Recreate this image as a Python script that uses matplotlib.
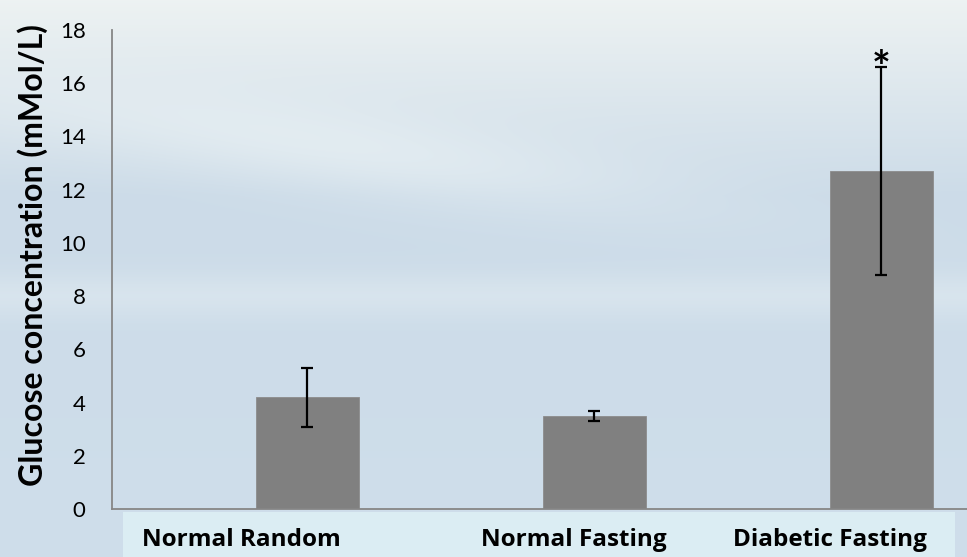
import matplotlib
matplotlib.use("Agg")
import matplotlib.pyplot as plt
import numpy as np
from matplotlib.patches import Rectangle

# Glucose levels per group (mMol/L) with error bar half-widths
categories = ["Normal Random", "Normal Fasting", "Diabetic Fasting"]
glucose = [4.2, 3.5, 12.7]
glucose_err = [1.1, 0.2, 3.9]
significant = [False, False, True]

yticks = [0, 2, 4, 6, 8, 10, 12, 14, 16, 18]

plt.rcParams["font.family"] = ["Lato", "DejaVu Sans"]

W, H = 967, 557
fig = plt.figure(figsize=(W / 100, H / 100), dpi=100)

# ---------------------------------------------------------------------------
# Soft sky backdrop
# ---------------------------------------------------------------------------
yy, xx = np.mgrid[0:H, 0:W] / np.array([H, W])[:, None, None]
top = np.array([0.93, 0.95, 0.95])
mid = np.array([0.80, 0.86, 0.91])
low = np.array([0.81, 0.87, 0.92])
t = np.clip(yy / 0.35, 0, 1)[..., None]
sky = top * (1 - t) + mid * t
t2 = np.clip((yy - 0.35) / 0.6, 0, 1)[..., None]
sky = sky * (1 - t2) + low * t2
# light cloud streaks
streak = np.exp(-((yy - 0.25 - 0.25 * (xx - 0.3)) / 0.08) ** 2) * np.exp(-((xx - 0.35) / 0.35) ** 2)
band = np.exp(-((yy - 0.53) / 0.04) ** 2) * 0.6
glow = np.clip(streak + band, 0, 1)[..., None]
sky = sky * (1 - 0.6 * glow) + np.array([0.92, 0.95, 0.96]) * 0.6 * glow
bg = fig.add_axes([0, 0, 1, 1], zorder=-10)
bg.imshow(sky, aspect="auto", extent=[0, 1, 0, 1], interpolation="bilinear")
bg.axis("off")

# light strip behind the category labels
fig.patches.append(Rectangle((123 / W, 0), (955 - 123) / W, (557 - 512) / H,
                             transform=fig.transFigure, facecolor="#dbedf3",
                             edgecolor="none", zorder=-5))

# ---------------------------------------------------------------------------
# Bars
# ---------------------------------------------------------------------------
ax = fig.add_axes([112 / W, 1 - 509 / H, 861 / W, (509 - 30) / H])
ax.patch.set_alpha(0)

x = np.arange(len(categories))
bar_w = 0.362
bar_x = x + bar_w / 2

ax.bar(bar_x, glucose, width=bar_w, color="#808080", edgecolor="#8c8c8c",
       linewidth=0.6, zorder=2)
ax.errorbar(bar_x, glucose, yerr=glucose_err, fmt="none", ecolor="black",
            elinewidth=1.6, capsize=4.5, capthick=1.6, zorder=3)

for xi, m, e, sig in zip(bar_x, glucose, glucose_err, significant):
    if sig:
        ax.annotate("*", xy=(xi, m + e), xytext=(0, -16), textcoords="offset points",
                    ha="center", va="bottom", fontsize=32, fontweight="bold")

ax.set_xlim(-0.5, len(categories) - 0.5)
ax.set_ylim(0, 18)
ax.set_yticks(yticks)
ax.set_yticklabels([str(v) for v in yticks], fontsize=16)
ax.tick_params(axis="y", length=0, pad=19)

# category label positions, shifted relative to the category centres
label_shift = [-0.05, 0.11, 0.002]
ax.set_xticks(x + np.array(label_shift))
ax.set_xticklabels(categories, fontsize=17.5, fontweight="bold",
                   family=["Open Sans", "DejaVu Sans"])
ax.tick_params(axis="x", length=0, pad=14)

for side in ("top", "right"):
    ax.spines[side].set_visible(False)
for side in ("left", "bottom"):
    ax.spines[side].set_color("#868686")
    ax.spines[side].set_linewidth(1.3)

ax.set_ylabel("Glucose concentration (mMol/L)", fontsize=23, fontweight="bold")
ax.yaxis.set_label_coords(-64 / 861, 0.53)

fig.savefig("out.png", dpi=100)
